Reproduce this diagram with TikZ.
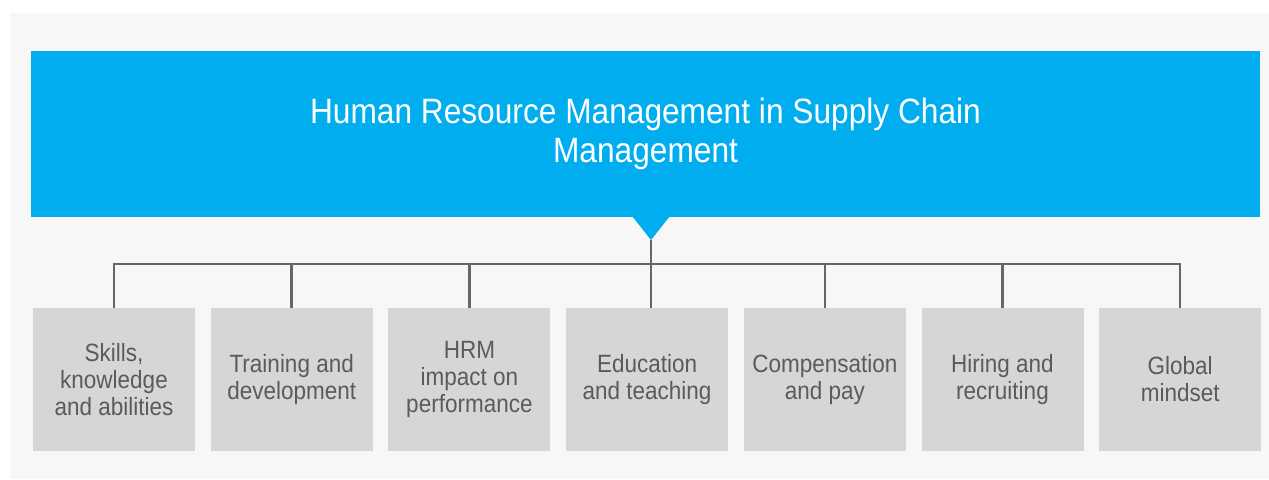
\documentclass[tikz,border=0pt]{standalone}
\usepackage{fontspec}
\setmainfont{Liberation Sans}[FakeStretch=0.9]
\usepackage{tikz}
\usetikzlibrary{positioning}

\definecolor{hrmblue}{HTML}{00AEEF}
\definecolor{hrmgray}{HTML}{D5D6D8}
\definecolor{hrmtext}{HTML}{5A5B5D}
\definecolor{hrmline}{HTML}{666666}
\definecolor{hrmback}{HTML}{F7F7F7}

\begin{document}
\begin{tikzpicture}[x=0.5pt,y=-0.5pt,
  node distance=7.85pt,
  line/.style={draw=hrmline,line width=1.25pt},
  item/.style={rectangle,fill=hrmgray,text=hrmtext,minimum width=81pt,minimum height=71.5pt,
    inner sep=0pt,outer sep=0pt,align=center,font=\fontsize{12.5}{13.5}\selectfont}]
      \tikzstyle{head}=[rectangle,fill=hrmblue,text=white,minimum width=614.5pt,minimum height=83pt,
        inner sep=0pt,outer sep=0pt,align=center,font=\fontsize{17.6}{19.2}\selectfont]

  \useasboundingbox (0,0) rectangle (1269,479);
  \fill[hrmback] (10,13) rectangle (1269,479);

  % title bar with its pointer
  \node [head] (title) at (645.5,134) {Human Resource Management in Supply Chain\\Management};
  \coordinate (tip) at (651,240);
  \fill[hrmblue] (632,216) -- (670,216) -- (tip) -- cycle;

  % the seven topics
  \node [item] (skills) at (114,379.5) {Skills,\\knowledge\\and abilities};
  \node [item,right=of skills] (training) {Training and\\development};
  \node [item,right=of training] (impact) {HRM\\impact on\\performance};
  \node [item,right=of impact] (education) {Education\\and teaching};
  \node [item,right=of education] (pay) {Compensation\\and pay};
  \node [item,right=of pay] (hiring) {Hiring and\\recruiting};
  \node [item,right=of hiring] (mindset) {Global\\mindset};

  \coordinate (bus) at (651,264);
  \draw[line] (tip) -- (tip |- education.north);
  \draw[line] (skills.north) |- (bus) -| (mindset.north);
  \foreach \n in {training,impact,pay,hiring}
    \draw[line] (\n.north) -- (\n.north |- bus);

\end{tikzpicture}
\end{document}
